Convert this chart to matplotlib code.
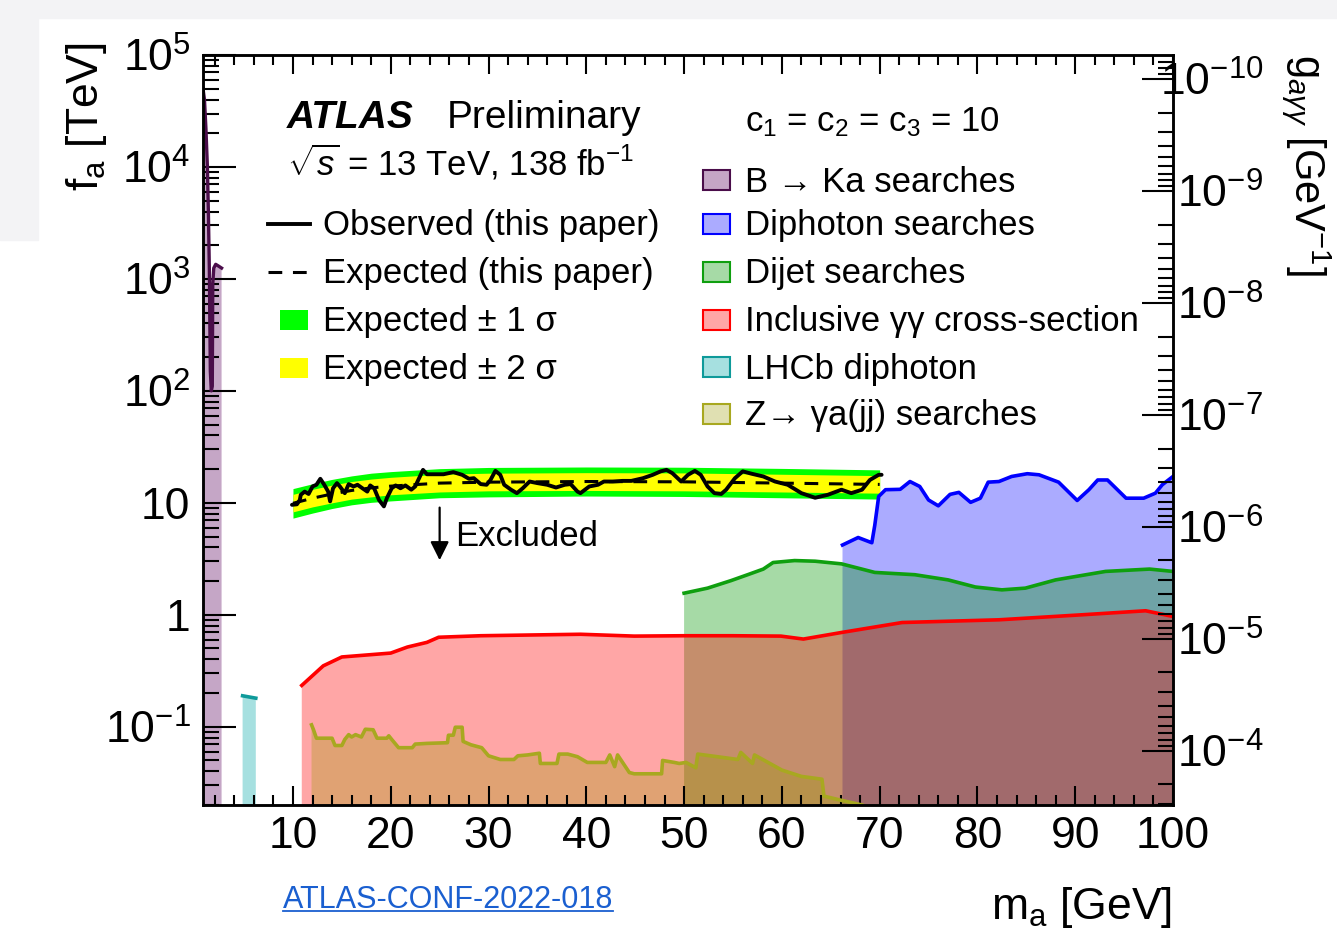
import numpy as np
import matplotlib
matplotlib.use("Agg")
import matplotlib.pyplot as plt
from matplotlib.lines import Line2D
from matplotlib.patches import Rectangle
from matplotlib.ticker import FixedLocator, LogLocator, MultipleLocator, FuncFormatter, NullFormatter

plt.rcParams['font.family'] = ['Liberation Sans', 'DejaVu Sans']
plt.rcParams['mathtext.fontset'] = 'custom'
plt.rcParams['mathtext.rm'] = 'Liberation Sans'
plt.rcParams['mathtext.it'] = 'Liberation Sans:italic'
plt.rcParams['mathtext.bf'] = 'Liberation Sans:bold'

# ---------------- limits (m_a in GeV, f_a in TeV) ----------------
m_min, m_max = 0.8, 100.0
f_min, f_max = 0.02, 1e5
g_const = 10 ** -5.214          # g_agg [GeV^-1] = g_const / f_a [TeV]

# ---------------- this paper: expected band and observed ----------------
exp_m = [10, 12, 14, 16, 18, 20, 25, 30, 40, 50, 60, 70]
exp_f = [9.9, 11.0, 12.0, 12.9, 13.6, 14.1, 15.0, 15.3, 15.5, 15.4, 15.0, 14.6]
exp_1s_hi = [13.4, 14.8, 16.2, 17.4, 18.4, 19.0, 20.2, 20.7, 20.9, 20.8, 20.3, 19.7]
exp_1s_lo = [7.3, 8.1, 8.9, 9.6, 10.1, 10.4, 11.1, 11.3, 11.5, 11.4, 11.1, 10.8]
exp_2s_hi = [11.9, 13.2, 14.4, 15.5, 16.3, 16.9, 18.0, 18.4, 18.6, 18.5, 18.0, 17.5]
exp_2s_lo = [8.3, 9.2, 10.0, 10.8, 11.3, 11.8, 12.5, 12.8, 12.9, 12.8, 12.5, 12.2]

obs_m = [9.9, 10.4, 10.7, 10.8, 11.2, 11.6, 12.0, 12.4, 12.8, 13.2,
         13.6, 13.8, 14.1, 14.5, 14.8, 15.3, 15.7, 16.2, 16.6, 17.1,
         17.6, 17.9, 18.3, 18.8, 19.3, 19.6, 20.1, 20.5, 21.0, 21.5,
         22.1, 22.5, 22.9, 23.3, 23.7, 24.6, 25.4, 26.4, 27.3, 28.0,
         28.5, 29.2, 29.8, 30.2, 30.7, 31.2, 31.6, 32.3, 32.9, 33.5,
         34.2, 35.0, 36.0, 36.9, 37.8, 38.4, 39.1, 39.4, 40.3, 41.2,
         41.8, 42.7, 43.7, 44.6, 45.8, 46.8, 47.6, 48.2, 48.8, 49.7,
         50.4, 51.1, 51.7, 52.4, 53.1, 53.8, 54.3, 55.2, 56.0, 56.9,
         58.1, 59.3, 60.6, 62.0, 63.4, 64.7, 66.1, 67.1, 68.2, 69.0,
         69.9, 70.2]
obs_f = [9.6, 9.7, 10.6, 11.8, 12.6, 12.0, 14.0, 14.5, 16.4, 14.5,
         12.6, 10.3, 13.5, 15.0, 14.0, 12.2, 14.7, 14.0, 14.5, 13.5,
         12.6, 14.3, 13.5, 10.6, 9.3, 11.0, 13.5, 14.3, 13.5, 14.3,
         13.1, 14.0, 16.6, 19.7, 18.0, 18.0, 18.0, 18.8, 17.8, 16.4,
         16.6, 14.7, 14.5, 16.0, 19.3, 17.8, 14.5, 13.1, 12.2, 13.5,
         15.5, 15.0, 14.5, 13.7, 14.5, 14.7, 12.6, 12.2, 14.0, 14.5,
         15.5, 15.5, 15.7, 15.7, 16.6, 17.8, 19.1, 19.7, 18.4, 15.5,
         17.8, 19.3, 17.8, 14.0, 12.2, 12.0, 13.1, 16.6, 19.1, 18.2,
         17.2, 15.5, 14.5, 12.2, 11.1, 11.8, 13.1, 12.2, 13.1, 16.0,
         17.8, 17.8]

# ---------------- other constraints ----------------
bka_m = [0.8, 0.95, 1.1, 1.25, 1.35, 1.45, 1.5, 1.55, 1.65, 1.75, 1.8, 1.9, 2.1, 2.4, 2.7]
bka_f = [5e4, 4e4, 2.2e4, 1e4, 4e3, 1.2e3, 400, 150, 100, 110, 900, 1250, 1350, 1300, 1250]

lhcb_m = [4.85, 6.2]
lhcb_f = [0.189, 0.180]

dipho_m = [66.2, 67.8, 69.2, 69.5, 69.9, 70.6, 72.1, 73.1, 74.1, 75.0,
           76.0, 77.2, 78.1, 79.3, 80.3, 81.1, 82.2, 83.5, 85.1, 86.3,
           88.3, 90.2, 91.4, 92.3, 93.3, 95.2, 97.0, 98.2, 98.9, 100.0]
dipho_f = [4.2, 4.9, 4.4, 6.3, 11.4, 13.1, 13.2, 15.5, 14.0, 10.6,
           9.4, 11.9, 12.4, 10.1, 11.0, 15.3, 15.5, 17.2, 18.2, 17.8,
           15.3, 10.5, 13.1, 16.0, 16.0, 11.0, 11.0, 12.2, 14.5, 17.2]

dijet_m = [50.0, 52.4, 54.8, 56.5, 58.1, 59.1, 61.3, 63.4, 66.1, 69.5,
           73.6, 77.0, 79.8, 82.5, 84.9, 88.0, 93.1, 97.6, 100.0]
dijet_f = [1.56, 1.73, 2.02, 2.28, 2.56, 2.93, 3.05, 3.01, 2.85, 2.39,
           2.28, 2.05, 1.77, 1.67, 1.73, 2.05, 2.44, 2.56, 2.44]

incl_m = [10.9, 13.1, 15.0, 20.0, 21.7, 23.7, 24.9, 29.2, 39.4, 44.9,
          50.0, 55.0, 59.9, 62.2, 66.1, 72.3, 82.2, 90.7, 97.2, 100.0]
incl_f = [0.234, 0.35, 0.42, 0.455, 0.515, 0.567, 0.63, 0.65, 0.67, 0.645,
          0.65, 0.65, 0.645, 0.607, 0.695, 0.853, 0.902, 1.0, 1.086, 0.966]

zga_m = [11.9, 12.1, 12.4, 14.0, 14.3, 15.0, 15.3, 15.7, 16.0, 16.4,
         17.0, 17.4, 18.2, 18.6, 19.6, 19.8, 20.1, 20.8, 22.2, 22.5,
         23.7, 25.8, 25.9, 26.4, 26.6, 27.3, 27.4, 28.2, 29.3, 30.0,
         31.2, 32.6, 33.0, 34.0, 35.2, 35.3, 37.0, 37.2, 38.1, 39.1,
         40.1, 42.0, 42.4, 42.9, 43.2, 44.4, 44.9, 47.7, 47.8, 49.0,
         49.5, 50.2, 51.2, 51.4, 55.5, 55.8, 57.0, 57.2, 60.0, 62.0,
         64.1, 64.3, 66.1, 68.2]
zga_f = [0.104, 0.094, 0.079, 0.079, 0.068, 0.068, 0.077, 0.085, 0.081, 0.085,
         0.081, 0.095, 0.094, 0.079, 0.079, 0.083, 0.077, 0.065, 0.065, 0.070,
         0.071, 0.072, 0.084, 0.084, 0.099, 0.099, 0.074, 0.069, 0.065, 0.055,
         0.051, 0.051, 0.055, 0.056, 0.058, 0.047, 0.047, 0.057, 0.057, 0.054,
         0.048, 0.048, 0.056, 0.044, 0.056, 0.039, 0.038, 0.038, 0.050, 0.048,
         0.047, 0.048, 0.043, 0.057, 0.051, 0.059, 0.047, 0.056, 0.041, 0.036,
         0.034, 0.024, 0.022, 0.020]

# fill colour, alpha, line colour
sty = {
    'bka':   ((0.35, 0.0, 0.37), 0.35, '#4a0d4a'),
    'lhcb':  ((0.0, 0.66, 0.66), 0.35, '#0e9a9a'),
    'dipho': ((0.0, 0.0, 1.0), 0.33, '#0000ff'),
    'dijet': ((0.0, 0.59, 0.0), 0.35, '#0f9f0f'),
    'incl':  ((1.0, 0.0, 0.0), 0.35, '#ff0000'),
    'zga':   ((0.6, 0.6, 0.0), 0.30, '#a8a820'),
}

W, H = 1337, 934
fig = plt.figure(figsize=(W / 100, H / 100), dpi=100)


def fx(x, y):
    return x / W, 1 - y / H


# page background strips
fig.patches.append(Rectangle((0, 1 - 18 / H), 1, 18 / H, transform=fig.transFigure,
                             color='#f3f3f5', zorder=-10))
fig.patches.append(Rectangle((0, 1 - 240 / H), 38 / W, 240 / H, transform=fig.transFigure,
                             color='#f3f3f5', zorder=-10))

ax = fig.add_axes([203 / W, 1 - 805 / H, 970 / W, 750 / H])
ax.set_xlim(m_min, m_max)
ax.set_yscale('log')
ax.set_ylim(f_min, f_max)


def band(key, m, f, lw=2.6):
    fc, a, lc = sty[key]
    ax.fill_between(m, f, f_min / 10, facecolor=fc, alpha=a, lw=0)
    ax.plot(m, f, color=lc, lw=lw, solid_joinstyle='round')


band('bka', bka_m, bka_f, lw=2.4)
band('lhcb', lhcb_m, lhcb_f)
band('dipho', dipho_m, dipho_f)
band('dijet', dijet_m, dijet_f)
band('incl', incl_m, incl_f)
band('zga', zga_m, zga_f)

ax.fill_between(exp_m, exp_1s_lo, exp_1s_hi, color='#00ff00', lw=0)
ax.fill_between(exp_m, exp_2s_lo, exp_2s_hi, color='#ffff00', lw=0)
ax.plot(exp_m, exp_f, color='k', lw=2.2, ls=(0, (4.5, 3.5)))
ax.plot(obs_m, obs_f, color='k', lw=2.8, solid_joinstyle='round', solid_capstyle='round')

# exclusion arrow
ax.annotate('', xy=(25.0, 2.9), xytext=(25.0, 9.6),
            arrowprops=dict(arrowstyle='-|>', color='k', lw=1.6, mutation_scale=28))
ax.text(26.6, 5.0, 'Excluded', fontsize=25, va='center')

# axes styling
for s in ax.spines.values():
    s.set_linewidth(1.8)
ax.xaxis.set_major_locator(FixedLocator([10, 20, 30, 40, 50, 60, 70, 80, 90, 100]))
ax.xaxis.set_minor_locator(MultipleLocator(2))
ax.yaxis.set_major_locator(LogLocator(base=10, numticks=20))
ax.yaxis.set_minor_locator(LogLocator(base=10, subs=np.arange(2, 10), numticks=20))
ax.yaxis.set_minor_formatter(NullFormatter())


def pow_label(v, pos):
    e = int(round(np.log10(v)))
    if e == 0:
        return '1'
    if e == 1:
        return '10'
    return r'$10^{%d}$' % e


ax.yaxis.set_major_formatter(FuncFormatter(pow_label))
ax.tick_params(axis='x', which='major', direction='in', length=14, width=1.5, top=True,
               labelsize=32, pad=8)
ax.tick_params(axis='x', which='minor', direction='in', length=7, width=1.5, top=True)
ax.tick_params(axis='y', which='major', direction='in', length=24, width=1.5, right=False,
               labelsize=32, pad=9)
ax.tick_params(axis='y', which='minor', direction='in', length=11.5, width=1.5, right=False)

# coupling axis on the right (inverted: g = const / f)
ax2 = ax.twinx()
ax2.set_yscale('log')
ax2.set_ylim(g_const / f_min, g_const / f_max)
ax2.yaxis.set_major_locator(FixedLocator([1e-10, 1e-9, 1e-8, 1e-7, 1e-6, 1e-5, 1e-4]))
ax2.yaxis.set_minor_locator(LogLocator(base=10, subs=np.arange(2, 10), numticks=20))
ax2.yaxis.set_minor_formatter(NullFormatter())
ax2.yaxis.set_major_formatter(FuncFormatter(pow_label))
ax2.tick_params(axis='y', which='major', direction='in', length=22, width=1.5,
                labelsize=32, pad=65)
ax2.tick_params(axis='y', which='minor', direction='in', length=11, width=1.5)
for s in ax2.spines.values():
    s.set_linewidth(1.8)
for lbl in ax2.yaxis.get_majorticklabels():
    lbl.set_horizontalalignment('right')

# axis titles
fig.text(*fx(86, 42), r'f$_{\mathrm{a}}$ [TeV]', rotation=90, ha='center', va='top', fontsize=32)
fig.text(*fx(1306, 54), r'g$_{a\gamma\gamma}$ [GeV$^{-1}$]', rotation=-90, ha='center', va='top',
         fontsize=30)
fig.text(*fx(1172, 908), r'm$_{\mathrm{a}}$ [GeV]', ha='right', va='center', fontsize=32)

# experiment label
fig.text(*fx(287, 118), 'ATLAS', fontsize=28, weight='bold', style='italic', va='center')
fig.text(*fx(447, 118), 'Preliminary', fontsize=28, va='center')
fig.text(*fx(287, 162), r'$\sqrt{s}$ = 13 TeV, 138 fb$^{-1}$', fontsize=25, va='center')

# legend, left column
left_rows = [224, 272, 320, 368]
fig.add_artist(Line2D([268 / W, 310 / W], [1 - 224 / H] * 2, color='k', lw=2.8))
fig.add_artist(Line2D([268 / W, 310 / W], [1 - 272 / H] * 2, color='k', lw=2.2,
                      ls=(0, (4.5, 3.5))))
fig.add_artist(Rectangle(fx(280, 330), 28 / W, 20 / H, color='#00ff00', lw=0))
fig.add_artist(Rectangle(fx(280, 378), 28 / W, 20 / H, color='#ffff00', lw=0))
left_labels = ['Observed (this paper)', 'Expected (this paper)',
               'Expected ± 1 σ', 'Expected ± 2 σ']
for y, t in zip(left_rows, left_labels):
    fig.text(*fx(323, y + 2), t, fontsize=25, va='center')

# legend, right column
fig.text(*fx(745, 122), r'c$_1$ = c$_2$ = c$_3$ = 10', fontsize=25, va='center')
right_rows = [180, 224, 272, 320, 367, 414]
right_keys = ['bka', 'dipho', 'dijet', 'incl', 'lhcb', 'zga']
right_labels = ['B → Ka searches', 'Diphoton searches', 'Dijet searches',
                'Inclusive γγ cross-section', 'LHCb diphoton',
                'Z→ γa(jj) searches']
for y, k, t in zip(right_rows, right_keys, right_labels):
    fc, a, lc = sty[k]
    fig.add_artist(Rectangle(fx(703, y + 10), 27 / W, 20 / H, facecolor=fc, alpha=a, lw=0))
    fig.add_artist(Rectangle(fx(703, y + 10), 27 / W, 20 / H, facecolor='none',
                             edgecolor=lc, lw=1.5))
    fig.text(*fx(745, y + 2), t, fontsize=25, va='center')

# reference link
ref = fig.text(*fx(283, 900), 'ATLAS-CONF-2022-018', fontsize=22, color='#1a5fd0', va='center')
fig.canvas.draw()
bb = ref.get_window_extent().transformed(fig.transFigure.inverted())
fig.add_artist(Line2D([bb.x0, bb.x1], [bb.y0 + 0.004] * 2, color='#1a5fd0', lw=1.3))

fig.savefig('out.png', dpi=100)
